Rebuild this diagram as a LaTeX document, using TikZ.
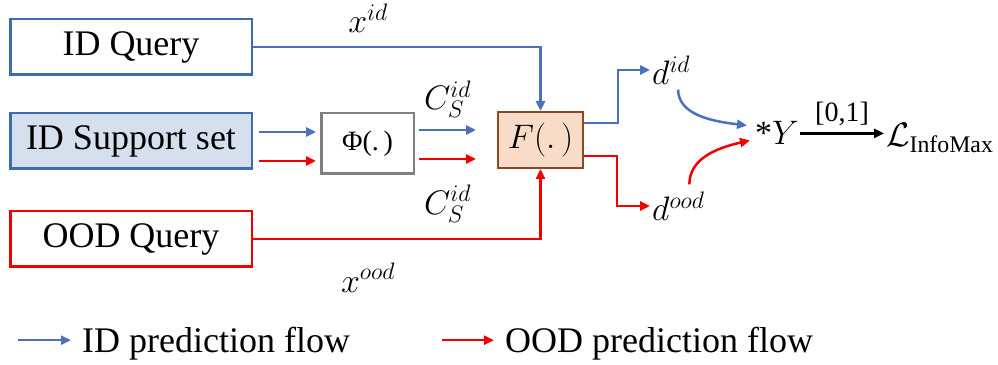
\RequirePackage{fix-cm}
\documentclass[tikz,border=0pt]{standalone}
\usepackage{amsmath}
\usepackage{fontspec}
\setmainfont{Liberation Serif}
\usepackage{tikz}
\usetikzlibrary{positioning,arrows.meta,calc}
\definecolor{boxblue}{HTML}{3A6DB4}
\definecolor{flowblue}{HTML}{4A70BE}
\definecolor{flowred}{HTML}{F20000}
\definecolor{suppfill}{HTML}{D5DFEE}
\definecolor{ffill}{HTML}{F9DCC8}
\definecolor{fdraw}{HTML}{8B4B22}
\definecolor{phigray}{HTML}{7F7F7F}
\newcommand{\boxfont}{\fontsize{36}{40}\selectfont}
\newcommand{\mathfont}{\fontsize{34}{38}\selectfont}
\newcommand{\smallfont}{\fontsize{28}{32}\selectfont}

\begin{document}
\begin{tikzpicture}[x=1pt, y=1pt,
    inbox/.style={draw, line width=2.5pt, minimum width=241.5pt, minimum height=55.5pt,
                  inner sep=0pt, font=\boxfont},
    idflow/.style={draw=flowblue, line width=2.5pt, -{Triangle[length=10pt,width=9pt]}},
    oodflow/.style={draw=flowred, line width=2.5pt, -{Triangle[length=10pt,width=9pt]}},
    lbl/.style={font=\mathfont, inner sep=1pt}]
  \useasboundingbox (0,0) rectangle (998,364);

  % inputs
  \node[inbox, draw=boxblue] (idq) at (131,317) {ID Query};
  \node[inbox, draw=boxblue, fill=suppfill] (sup) at (131,223) {ID Support set};
  \node[inbox, draw=flowred] (oodq) at (131,125) {OOD Query};

  % encoder and scorer
  \node[draw=phigray, line width=2.5pt, minimum width=92.5pt, minimum height=60.5pt,
        inner sep=0pt, font=\smallfont] (phi) at (367.5,220.5) {Φ(.\,)};
  \node[draw=fdraw, fill=ffill, line width=2pt, minimum width=85pt, minimum height=56pt,
        inner sep=0pt, font=\mathfont] (fbox) at (540.5,224) {$F(.\,)$};

  % outputs
  \node[lbl, anchor=west, inner sep=2pt] (did) at (650,294) {$d^{id}$};
  \node[lbl, anchor=west, inner sep=2pt] (dood) at (650,158) {$d^{ood}$};
  \node[font=\mathfont, anchor=base west, inner sep=1pt] (ystar) at (754,219) {*$Y$};
  \node[font=\mathfont, anchor=base west, inner sep=2pt] (loss) at (884,217)
       {$\mathcal{L}_{\text{InfoMax}}$};

  % queries into F
  \draw[idflow] (idq.east) -| node[lbl, above=12pt, pos=0.2] {$x^{id}$} (fbox.north);
  \draw[oodflow] (oodq.east) -| node[lbl, below=22pt, pos=0.2] {$x^{ood}$} (fbox.south);

  % support set through Phi
  \draw[idflow] ([shift={(6,9)}]sup.east) -- ([shift={(-4,11.5)}]phi.west);
  \draw[oodflow] ([shift={(6,-20)}]sup.east) -- ([shift={(-4,-17.5)}]phi.west);
  \draw[idflow] ([shift={(4,13.5)}]phi.east)
        -- node[lbl, above=10pt] {$C_S^{id}$} ([shift={(-21,10)}]fbox.west);
  \draw[oodflow] ([shift={(4,-15.5)}]phi.east)
        -- node[lbl, below=24pt] {$C_S^{id}$} ([shift={(-21,-19)}]fbox.west);

  % scores
  \draw[idflow] ([yshift=17pt]fbox.east) -- ++(34,0) |- (did.west);
  \draw[oodflow] ([yshift=-16pt]fbox.east) -- ++(33,0) |- (dood.west);
  \draw[idflow] ([shift={(7,-3)}]did.south) .. controls +(0,-25) and +(-35,4) ..
        ([shift={(-7,8)}]ystar.west);
  \draw[oodflow] ([shift={(11,5)}]dood.north) .. controls +(0,25) and +(-35,-8) ..
        ([shift={(-4,-7)}]ystar.west);
  \draw[line width=2.5pt, -{Triangle[length=10pt,width=9pt]}] (ystar.east)
        -- node[above=5pt, font=\smallfont, inner sep=1pt] {[0,1]} (ystar.east -| loss.west);

  % legend
  \node[font=\boxfont, anchor=base west, inner sep=0pt] (legid) at (82,12) {ID prediction flow};
  \node[font=\boxfont, anchor=base west, inner sep=0pt] (legood) at (505,12) {OOD prediction flow};
  \draw[idflow] ([shift={(-64,3)}]legid.west) -- ([shift={(-11,3)}]legid.west);
  \draw[oodflow] ([shift={(-63,3)}]legood.west) -- ([shift={(-11,3)}]legood.west);
\end{tikzpicture}
\end{document}
